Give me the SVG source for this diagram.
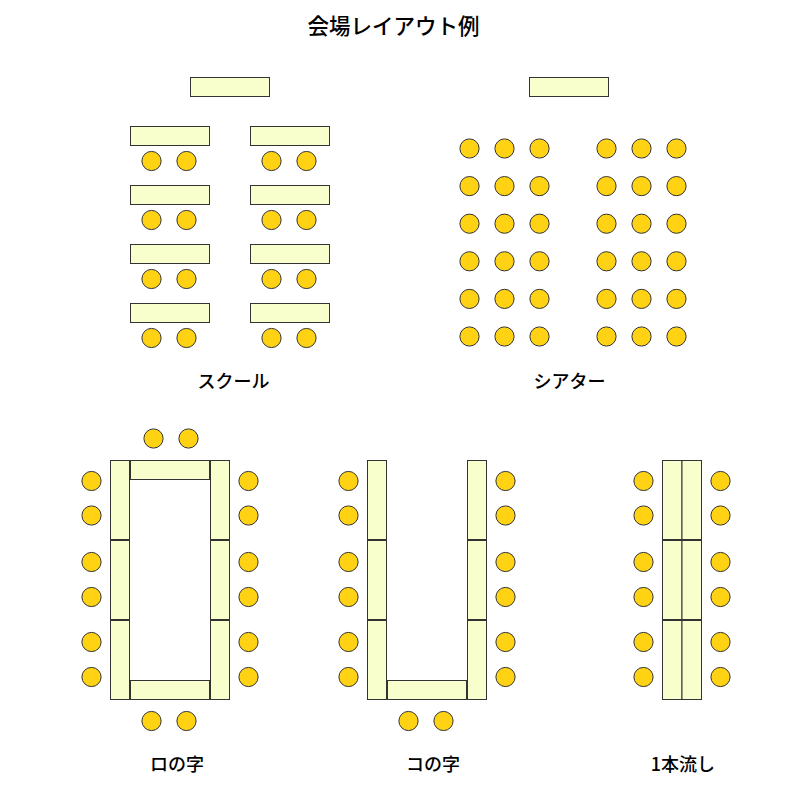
<svg xmlns="http://www.w3.org/2000/svg" xmlns:xlink="http://www.w3.org/1999/xlink" width="800" height="800" viewBox="0 0 800 800">
<style>
.t{fill:#f9ffcc;stroke:#333;stroke-width:1}
.c{fill:#ffd314;stroke:#333;stroke-width:1}
text{font-family:"Noto Sans CJK JP","Noto Sans",sans-serif;fill:#000;text-anchor:middle;font-weight:500}
.lb{font-size:18px}
.tt{font-size:21.5px}
</style>
<defs>
<circle id="ch" r="9.6" class="c"/>
</defs>
<rect width="800" height="800" fill="#fff"/>
<text class="tt" x="393.5" y="34">会場レイアウト例</text>
<g id="school">
<rect class="t" x="190.5" y="77.5" width="79" height="19"/>
<rect class="t" x="130.5" y="126.5" width="79" height="19"/><rect class="t" x="250.5" y="126.5" width="79" height="19"/>
<rect class="t" x="130.5" y="185.5" width="79" height="19"/><rect class="t" x="250.5" y="185.5" width="79" height="19"/>
<rect class="t" x="130.5" y="244.5" width="79" height="19"/><rect class="t" x="250.5" y="244.5" width="79" height="19"/>
<rect class="t" x="130.5" y="303.5" width="79" height="19"/><rect class="t" x="250.5" y="303.5" width="79" height="19"/>
<g id="school-chairs">
<use xlink:href="#ch" x="151.5" y="161"/><use xlink:href="#ch" x="186.5" y="161"/><use xlink:href="#ch" x="271.5" y="161"/><use xlink:href="#ch" x="306.5" y="161"/>
<use xlink:href="#ch" x="151.5" y="220"/><use xlink:href="#ch" x="186.5" y="220"/><use xlink:href="#ch" x="271.5" y="220"/><use xlink:href="#ch" x="306.5" y="220"/>
<use xlink:href="#ch" x="151.5" y="279"/><use xlink:href="#ch" x="186.5" y="279"/><use xlink:href="#ch" x="271.5" y="279"/><use xlink:href="#ch" x="306.5" y="279"/>
<use xlink:href="#ch" x="151.5" y="338"/><use xlink:href="#ch" x="186.5" y="338"/><use xlink:href="#ch" x="271.5" y="338"/><use xlink:href="#ch" x="306.5" y="338"/>
</g>
<text class="lb" x="233.5" y="388">スクール</text>
</g>
<g id="theater">
<rect class="t" x="529.5" y="77.5" width="79" height="19"/>
<g id="theater-row" >
<use xlink:href="#ch" x="469.5" y="148.5"/><use xlink:href="#ch" x="504.5" y="148.5"/><use xlink:href="#ch" x="539.5" y="148.5"/><use xlink:href="#ch" x="606.5" y="148.5"/><use xlink:href="#ch" x="641.5" y="148.5"/><use xlink:href="#ch" x="676.5" y="148.5"/>
</g>
<use xlink:href="#theater-row" y="37.6"/>
<use xlink:href="#theater-row" y="75.2"/>
<use xlink:href="#theater-row" y="112.8"/>
<use xlink:href="#theater-row" y="150.4"/>
<use xlink:href="#theater-row" y="188"/>
<text class="lb" x="569.5" y="388">シアター</text>
</g>
<g id="ro">
<rect class="t" x="110.5" y="460.5" width="19" height="79"/><rect class="t" x="110.5" y="540.5" width="19" height="79"/><rect class="t" x="110.5" y="620.5" width="19" height="79"/>
<rect class="t" x="210.5" y="460.5" width="19" height="79"/><rect class="t" x="210.5" y="540.5" width="19" height="79"/><rect class="t" x="210.5" y="620.5" width="19" height="79"/>
<rect class="t" x="130.5" y="460.5" width="79" height="19"/>
<rect class="t" x="130.5" y="680.5" width="79" height="19"/>
<use xlink:href="#ch" x="153.5" y="438.5"/><use xlink:href="#ch" x="188.5" y="438.5"/>
<use xlink:href="#ch" x="151.5" y="721"/><use xlink:href="#ch" x="186.5" y="721"/>
<g id="ro-side">
<use xlink:href="#ch" x="91.5" y="481"/><use xlink:href="#ch" x="91.5" y="515.5"/><use xlink:href="#ch" x="91.5" y="562"/><use xlink:href="#ch" x="91.5" y="597"/><use xlink:href="#ch" x="91.5" y="642"/><use xlink:href="#ch" x="91.5" y="677"/>
</g>
<use xlink:href="#ro-side" x="157"/>
<text class="lb" x="177" y="771">ロの字</text>
</g>
<g id="ko">
<rect class="t" x="367.5" y="460.5" width="19" height="79"/><rect class="t" x="367.5" y="540.5" width="19" height="79"/><rect class="t" x="367.5" y="620.5" width="19" height="79"/>
<rect class="t" x="467.5" y="460.5" width="19" height="79"/><rect class="t" x="467.5" y="540.5" width="19" height="79"/><rect class="t" x="467.5" y="620.5" width="19" height="79"/>
<rect class="t" x="387.5" y="680.5" width="79" height="19"/>
<use xlink:href="#ch" x="408.5" y="721"/><use xlink:href="#ch" x="443.5" y="721"/>
<use xlink:href="#ro-side" x="257"/>
<use xlink:href="#ro-side" x="414"/>
<text class="lb" x="433" y="771">コの字</text>
</g>
<g id="ippon">
<rect class="t" x="662.5" y="460.5" width="19.5" height="79"/><rect class="t" x="662.5" y="540.5" width="19.5" height="79"/><rect class="t" x="662.5" y="620.5" width="19.5" height="79"/>
<rect class="t" x="682" y="460.5" width="19.5" height="79"/><rect class="t" x="682" y="540.5" width="19.5" height="79"/><rect class="t" x="682" y="620.5" width="19.5" height="79"/>
<use xlink:href="#ro-side" x="552"/>
<use xlink:href="#ro-side" x="629"/>
<text class="lb" x="683" y="771">1本流し</text>
</g>
</svg>
